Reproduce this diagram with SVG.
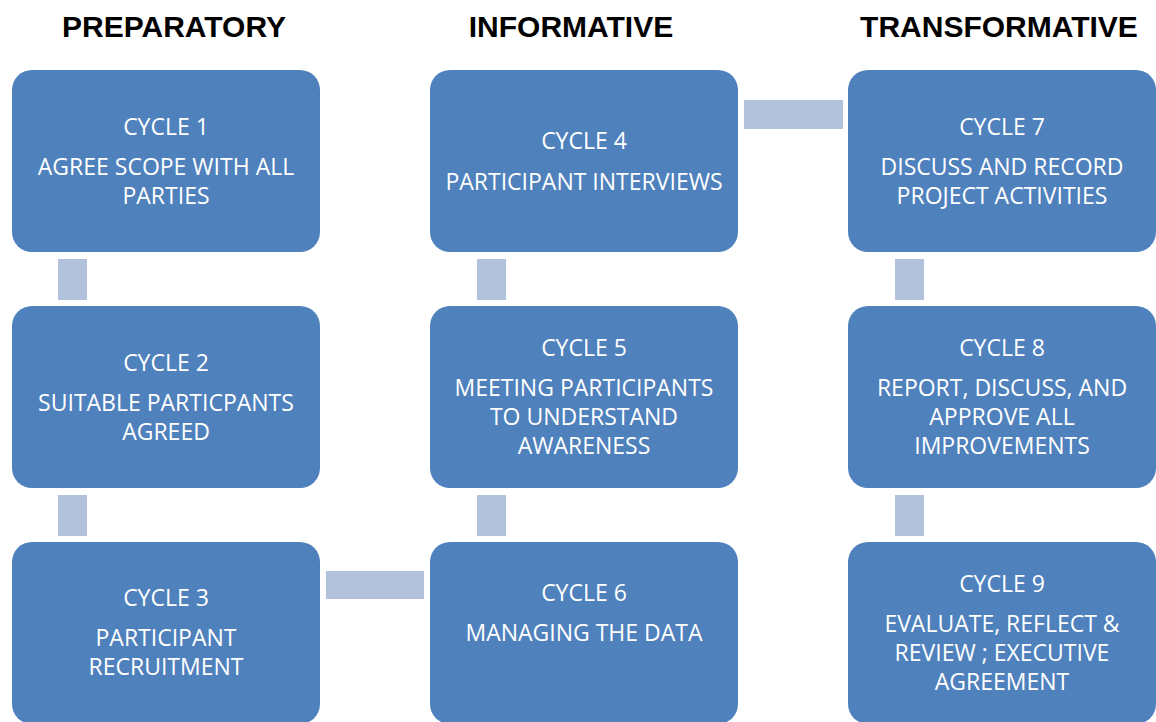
<svg xmlns="http://www.w3.org/2000/svg" width="1156" height="722" viewBox="0 0 1156 722">
<style>
.box{fill:#4F81BD;}
.con{fill:#B2C2DC;}
.hd{font-family:"Liberation Sans",Arial,sans-serif;font-weight:bold;font-size:30px;fill:#000;text-anchor:middle;}
.t{font-family:"Open Sans","Noto Sans",sans-serif;font-size:23px;fill:#fff;text-anchor:middle;}
</style>
<rect width="1156" height="722" fill="#fff"/>
<g id="headers">
<text class="hd" x="174" y="37">PREPARATORY</text>
<text class="hd" x="571" y="37">INFORMATIVE</text>
<text class="hd" x="999" y="37">TRANSFORMATIVE</text>
</g>
<g id="connectors">
<rect class="con" x="58" y="259" width="29" height="41"/>
<rect class="con" x="58" y="495" width="29" height="41"/>
<rect class="con" x="477" y="259" width="29" height="41"/>
<rect class="con" x="477" y="495" width="29" height="41"/>
<rect class="con" x="895" y="259" width="29" height="41"/>
<rect class="con" x="895" y="495" width="29" height="41"/>
<rect class="con" x="744" y="100" width="99" height="29"/>
<rect class="con" x="326" y="571" width="98" height="28"/>
</g>
<g id="cycle1">
<rect class="box" x="12" y="70" width="308" height="182" rx="20"/>
<text class="t" x="166" y="135">CYCLE 1</text>
<text class="t" x="166" y="175">AGREE SCOPE WITH ALL</text>
<text class="t" x="166" y="204">PARTIES</text>
</g>
<g id="cycle2">
<rect class="box" x="12" y="306" width="308" height="182" rx="20"/>
<text class="t" x="166" y="371">CYCLE 2</text>
<text class="t" x="166" y="411">SUITABLE PARTICPANTS</text>
<text class="t" x="166" y="440">AGREED</text>
</g>
<g id="cycle3">
<rect class="box" x="12" y="542" width="308" height="182" rx="20"/>
<text class="t" x="166" y="606">CYCLE 3</text>
<text class="t" x="166" y="646">PARTICIPANT</text>
<text class="t" x="166" y="675">RECRUITMENT</text>
</g>
<g id="cycle4">
<rect class="box" x="430" y="70" width="308" height="182" rx="20"/>
<text class="t" x="584" y="149">CYCLE 4</text>
<text class="t" x="584" y="190">PARTICIPANT INTERVIEWS</text>
</g>
<g id="cycle5">
<rect class="box" x="430" y="306" width="308" height="182" rx="20"/>
<text class="t" x="584" y="356">CYCLE 5</text>
<text class="t" x="584" y="396">MEETING PARTICIPANTS</text>
<text class="t" x="584" y="425">TO UNDERSTAND</text>
<text class="t" x="584" y="454">AWARENESS</text>
</g>
<g id="cycle6">
<rect class="box" x="430" y="542" width="308" height="182" rx="20"/>
<text class="t" x="584" y="601">CYCLE 6</text>
<text class="t" x="584" y="641">MANAGING THE DATA</text>
</g>
<g id="cycle7">
<rect class="box" x="848" y="70" width="308" height="182" rx="20"/>
<text class="t" x="1002" y="135">CYCLE 7</text>
<text class="t" x="1002" y="175">DISCUSS AND RECORD</text>
<text class="t" x="1002" y="204">PROJECT ACTIVITIES</text>
</g>
<g id="cycle8">
<rect class="box" x="848" y="306" width="308" height="182" rx="20"/>
<text class="t" x="1002" y="356">CYCLE 8</text>
<text class="t" x="1002" y="396">REPORT, DISCUSS, AND</text>
<text class="t" x="1002" y="425">APPROVE ALL</text>
<text class="t" x="1002" y="454">IMPROVEMENTS</text>
</g>
<g id="cycle9">
<rect class="box" x="848" y="542" width="308" height="182" rx="20"/>
<text class="t" x="1002" y="592">CYCLE 9</text>
<text class="t" x="1002" y="632">EVALUATE, REFLECT &amp;</text>
<text class="t" x="1002" y="661">REVIEW ; EXECUTIVE</text>
<text class="t" x="1002" y="690">AGREEMENT</text>
</g>
</svg>
